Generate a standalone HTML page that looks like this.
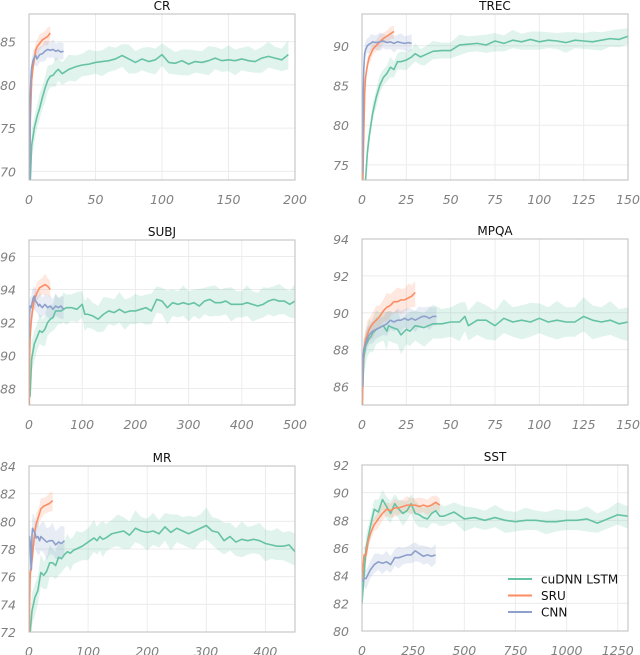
<!DOCTYPE html>
<html><head><meta charset="utf-8"><style>
html,body{margin:0;padding:0;background:#fff;}
svg{display:block;font-family:"DejaVu Sans","Liberation Sans",sans-serif;}
</style></head><body>
<svg id="chart" width="640" height="655" viewBox="0 0 640 655" xmlns="http://www.w3.org/2000/svg"></svg>
<script>
// ---- data ----
const crLstmX=[1,2,4,6,8,10,12,14,16,18,20,22,25,30,35,40,45,50,55,60,65,70,75,80,85,90,95,100,105,110,115,120,125,130,135,140,145,150,155,160,165,170,175,180,185,190,195];
const crLstmY=[69,73,75,76.3,77.3,78.5,79.6,80.5,81,81.1,81.5,81.8,81.3,81.8,82.1,82.3,82.4,82.6,82.7,82.8,83,83.4,83,82.6,83,82.7,82.9,83.5,82.6,82.5,82.8,82.4,82.7,82.6,82.8,83.1,82.8,82.9,82.8,83,82.8,82.7,83.1,83.3,83.1,82.9,83.5];
const crSruX=[0.5,1,2,3,4,5,6,8,10,12,14,16];
const crSruY=[69,76,80.5,82,83,84,84.4,84.8,85.2,85.4,85.6,86];
const crCnnX=[0.5,1,1.5,2,3,4,5,6,8,10,12,14,16,18,20,22,24,26];
const crCnnY=[69,79,81,82,82.8,83.2,83.4,83,83.5,83.6,83.9,84.1,84,84.1,83.9,84,83.8,83.9];

const trLstmX=[2,3,4,5,6,7,8,10,12,14,16,18,20,22,25,28,30,33,35,40,45,50,55,60,65,70,75,80,85,90,95,100,105,110,115,120,125,130,135,140,145,150];
const trLstmY=[73,76.5,78.5,80,81.5,82.5,83.5,85,86,86.5,87.3,87,88,88,88.2,88.6,89,88.6,88.8,89.3,89.4,89.4,90.1,90.2,90.3,90.1,90.6,90.3,90.7,90.5,90.8,90.5,90.7,90.6,90.4,90.7,90.6,90.5,90.7,90.9,90.8,91.2];
const trSruX=[0.5,1,1.5,2,3,4,5,6,7,8,10,12,14,16,18];
const trSruY=[73,79,84,86,87.5,88.5,89,89.5,89.8,90,90.5,90.9,91.2,91.5,91.8];
const trCnnX=[0.3,0.7,1,1.5,2,3,4,5,6,8,10,12,14,16,18,20,22,24,26,28];
const trCnnY=[74,84,87,89,89.5,90,90.2,90.3,90.5,90.4,90.5,90.6,90.4,90.5,90.3,90.5,90.4,90.3,90.4,90.3];

const suLstmX=[2,5,10,15,20,25,30,35,40,45,50,55,60,65,70,80,90,100,105,110,120,130,140,150,160,170,180,190,200,210,220,230,240,250,260,270,280,290,300,310,320,330,340,350,360,370,380,390,400,410,420,430,440,450,460,470,480,490,500];
const suLstmY=[87.5,89.8,90.7,91.1,91.5,91.4,91.6,92,92.2,92.3,92.7,92.7,92.7,92.8,92.9,92.9,92.8,93.1,92.5,92.5,92.4,92.2,92.5,92.7,92.6,92.8,92.6,92.7,92.7,92.8,92.9,92.7,93.4,93.3,92.9,93.2,93.1,93.2,93.1,93.2,93,93.3,93.4,93.2,93.2,93.3,93.1,93.1,93.1,93.2,93.1,93.0,93.1,93.3,93.4,93.3,93.3,93.1,93.3];
const suSruX=[0.5,1,2,4,6,8,10,15,20,25,30,35,40];
const suSruY=[87,89.5,91,92,92.6,93,93.4,93.8,94.1,94.2,94.3,94.2,94.0];
const suCnnX=[0.5,1,2,4,6,8,10,12,15,18,20,25,30,35,40,45,50,55,60,65];
const suCnnY=[91,92.5,93,92.9,93.2,93.5,93.6,93.3,93.2,93,93.1,92.9,93.1,92.9,93.0,92.8,93,92.9,93.0,92.8];

const mpLstmX=[0.5,1,2,3,4,5,6,8,10,12,14,15,17,20,22,25,27,30,35,40,45,50,55,58,60,65,70,75,80,85,90,95,100,105,110,115,120,125,130,135,140,145,150];
const mpLstmY=[86,87.5,88.2,88.4,88.6,88.7,88.9,89.1,89.2,89.3,89.0,89.3,89.2,89.1,88.8,89.1,89,89.3,89.2,89.4,89.4,89.5,89.5,89.8,89.3,89.6,89.6,89.3,89.7,89.5,89.6,89.5,89.7,89.5,89.6,89.5,89.5,89.8,89.6,89.5,89.6,89.4,89.5];
const mpSruX=[0.3,0.6,1,2,3,4,6,8,10,12,14,16,18,20,22,24,26,28,30];
const mpSruY=[85,87,88,88.5,88.8,89.1,89.4,89.6,89.8,90.1,90.3,90.4,90.6,90.6,90.7,90.7,90.8,90.9,91.1];
const mpCnnX=[0.3,0.6,1,2,3,4,6,8,10,12,14,16,18,20,22,24,26,28,30,32,34,36,38,40,42];
const mpCnnY=[86,87.5,88,88.3,88.6,88.8,89,89.1,89.2,89.3,89.4,89.6,89.5,89.6,89.6,89.7,89.6,89.7,89.6,89.7,89.8,89.8,89.7,89.8,89.8];

const mrLstmX=[2,5,10,15,20,25,30,35,40,45,50,55,60,65,70,75,80,90,100,110,115,120,125,130,140,150,160,170,180,190,200,210,220,230,240,250,260,270,280,290,300,310,320,330,340,350,360,370,380,390,400,410,420,430,440,450];
const mrLstmY=[72,73.5,74.5,75,76.3,76.1,76.4,77,77,76.8,77.4,77.3,77.6,77.8,77.7,77.9,78,78.2,78.5,78.8,78.6,78.9,78.7,78.8,79.1,79.2,79.3,79.0,79.5,79.3,79.2,79.3,79.1,79.6,79.2,79.5,79.3,79.1,79.3,79.5,79.7,79.3,79.2,78.6,78.9,78.5,78.7,78.6,78.7,78.6,78.4,78.3,78.2,78.2,78.3,77.8];
const mrSruX=[0.5,1,2,4,6,8,10,12,15,18,20,25,30,35,40];
const mrSruY=[72,74,76.2,76.8,77.5,78.5,79.3,79.8,80.2,80.6,80.9,81.1,81.2,81.3,81.5];
const mrCnnX=[0.5,1,2,3,4,5,6,8,10,12,15,18,20,25,30,35,40,45,50,55,60];
const mrCnnY=[78.5,78.9,78.5,77,76.5,79,79.5,79.3,79.2,78.8,78.9,78.6,78.9,78.7,78.5,78.6,78.6,78.3,78.5,78.4,78.6];

const ssLstmX=[0,20,40,60,80,100,120,140,160,180,200,220,240,260,280,300,320,340,360,380,400,450,500,550,600,650,700,750,800,850,900,950,1000,1050,1100,1150,1200,1250,1300];
const ssLstmY=[82,86,87.5,88.8,88.6,89.5,89,88.5,89.2,88.8,88.5,88.7,89.2,88.5,88.4,88.2,88.1,88.5,88.7,88.3,88.3,88.6,88.1,88.2,88,88.2,88.0,87.9,88,88,87.9,87.9,88.0,88.0,88.1,87.8,88.1,88.4,88.3];
const ssSruX=[0,10,20,30,40,60,80,100,120,140,160,180,200,220,240,260,280,300,320,340,360,380];
const ssSruY=[83.5,85.5,85.5,86.5,87,87.7,88.1,88.5,88.8,88.7,88.9,88.9,89.0,89.1,89.1,89.1,89.0,89.1,89.0,89.1,89.3,89.1];
const ssCnnX=[0,10,20,40,60,80,100,120,140,160,180,200,220,240,260,280,300,320,340,360];
const ssCnnY=[83.5,83.8,83.8,84.4,84.8,85.0,84.9,85.0,84.8,85.3,85.3,85.4,85.5,85.5,85.8,85.6,85.4,85.5,85.4,85.5];

const legendLabels=["cuDNN LSTM","SRU","CNN"];
const crXTicks=[0,50,100,150,200], crYTicks=[70,75,80,85];
const trXTicks=[0,25,50,75,100,125,150], trYTicks=[75,80,85,90];
const suXTicks=[0,100,200,300,400,500], suYTicks=[88,90,92,94,96];
const mpXTicks=[0,25,50,75,100,125,150], mpYTicks=[86,88,90,92,94];
const mrXTicks=[0,100,200,300,400], mrYTicks=[72,74,76,78,80,82,84];
const ssXTicks=[0,250,500,750,1000,1250], ssYTicks=[80,82,84,86,88,90,92];

// ---- drawing ----
const NS="http://www.w3.org/2000/svg";
const svg=document.getElementById('chart');
const COL=["#66c2a5","#fc8d62","#8da0cb"];
function el(tag,attrs,parent){const e=document.createElementNS(NS,tag);for(const k in attrs)e.setAttribute(k,attrs[k]);(parent||svg).appendChild(e);return e;}

const panels=[
 {name:"CR",L:29,R:295,T:14,B:180,xmin:0,xmax:200,ymin:69,ymax:88.2,xt:crXTicks,yt:crYTicks,s:[[crLstmX,crLstmY,1.3],[crSruX,crSruY,0.8],[crCnnX,crCnnY,0.9]]},
 {name:"TREC",L:362,R:628,T:14,B:180,xmin:0,xmax:150,ymin:73.1,ymax:94,xt:trXTicks,yt:trYTicks,s:[[trLstmX,trLstmY,1.0],[trSruX,trSruY,0.7],[trCnnX,trCnnY,0.9]]},
 {name:"SUBJ",L:29,R:295,T:240,B:405,xmin:0,xmax:500,ymin:87,ymax:97,xt:suXTicks,yt:suYTicks,s:[[suLstmX,suLstmY,0.8],[suSruX,suSruY,0.5],[suCnnX,suCnnY,0.6]]},
 {name:"MPQA",L:362,R:628,T:239,B:405,xmin:0,xmax:150,ymin:85,ymax:94,xt:mpXTicks,yt:mpYTicks,s:[[mpLstmX,mpLstmY,0.8],[mpSruX,mpSruY,0.6],[mpCnnX,mpCnnY,0.5]]},
 {name:"MR",L:29,R:295,T:466,B:632,xmin:0,xmax:450,ymin:72,ymax:84,xt:mrXTicks,yt:mrYTicks,s:[[mrLstmX,mrLstmY,1.0],[mrSruX,mrSruY,0.6],[mrCnnX,mrCnnY,1.0]]},
 {name:"SST",L:362,R:628,T:465,B:631,xmin:0,xmax:1300,ymin:80,ymax:92,xt:ssXTicks,yt:ssYTicks,s:[[ssLstmX,ssLstmY,0.7],[ssSruX,ssSruY,0.5],[ssCnnX,ssCnnY,0.6]]}
];
const sNames=["lstm","sru","cnn"];

panels.forEach(p=>{
  const id=p.name.toLowerCase();
  const g=el('g',{});
  
  
  const xs=v=>p.L+(v-p.xmin)/(p.xmax-p.xmin)*(p.R-p.L);
  const ys=v=>p.B-(v-p.ymin)/(p.ymax-p.ymin)*(p.B-p.T);
  const clipId='clip-'+id;
  const cp=el('clipPath',{id:clipId},g);
  el('rect',{x:p.L,y:p.T,width:p.R-p.L,height:p.B-p.T},cp);
  p.xt.forEach(t=>{
    const l=el('line',{x1:xs(t),x2:xs(t),y1:p.T,y2:p.B,stroke:"#ececec","stroke-width":1},g);
    
    
    const tx=el('text',{x:xs(t),y:p.B+24,"text-anchor":"middle","font-size":12.5,"font-style":"italic",fill:"#808080"},g);
    tx.textContent=t;
    
    
  });
  p.yt.forEach(t=>{
    const l=el('line',{x1:p.L,x2:p.R,y1:ys(t),y2:ys(t),stroke:"#ececec","stroke-width":1},g);
    
    
    const tx=el('text',{x:p.L-13,y:ys(t)+5,"text-anchor":"end","font-size":12.5,"font-style":"italic",fill:"#808080"},g);
    tx.textContent=t;
    
    
  });
  const dg=el('g',{"clip-path":"url(#"+clipId+")"},g);
  p.s.forEach((s,i)=>{
    const X=s[0],Y=s[1],w=s[2];
    let up=X.map((x,k)=>xs(x)+","+ys(Y[k]+w*(1+(k%3===1?0.3:0)))).join(" ");
    let dn=X.map((x,k)=>xs(x)+","+ys(Y[k]-w*(1+(k%4===2?0.3:0)))).reverse().join(" ");
    const band=el('polygon',{points:up+" "+dn,fill:COL[i],"fill-opacity":0.2,stroke:"none"},dg);
    
    
  });
  p.s.forEach((s,i)=>{
    const X=s[0],Y=s[1];
    const line=el('polyline',{points:X.map((x,k)=>xs(x)+","+ys(Y[k])).join(" "),fill:"none",stroke:COL[i],"stroke-width":1.6,"stroke-linejoin":"round"},dg);
    
    
  });
  const fr=el('rect',{x:p.L,y:p.T,width:p.R-p.L,height:p.B-p.T,fill:"none",stroke:"#bdbdbd","stroke-width":1},g);
  
  
  const ti=el('text',{x:(p.L+p.R)/2,y:p.T-4,"text-anchor":"middle","font-size":12,fill:"#111"},g);
  ti.textContent=p.name;
  
  
});

// legend
const lg=el('g',{});


legendLabels.forEach((lab,i)=>{
  const y=579+i*16.5;
  const l=el('line',{x1:508,x2:532,y1:y,y2:y,stroke:COL[i],"stroke-width":2},lg);
  
  
  const t=el('text',{x:541,y:y+4.5,"font-size":12,fill:"#111"},lg);
  t.textContent=lab;
  
  
});
</script>
</body></html>
